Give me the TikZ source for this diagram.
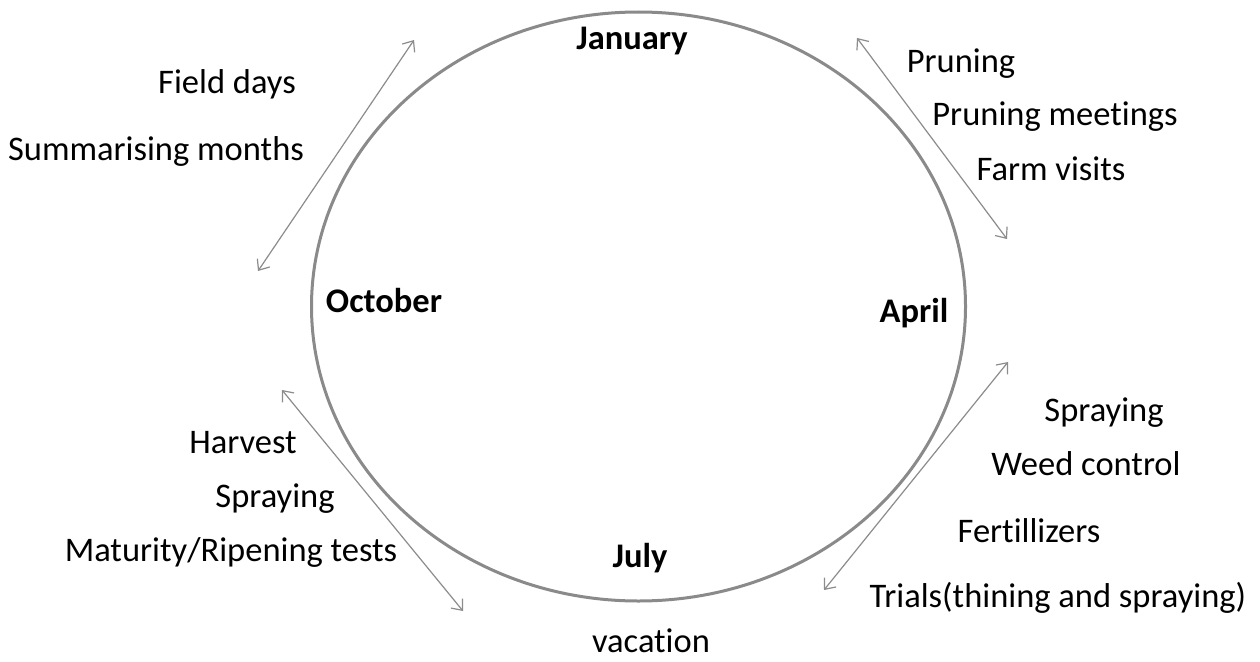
\documentclass[tikz,border=0pt]{standalone}
\usepackage{fontspec}
\setmainfont{Carlito}[Ligatures={NoCommon}]
\usetikzlibrary{arrows.meta}
\definecolor{ringgray}{HTML}{8A8A8A}
\definecolor{arrowgray}{HTML}{8C8C8C}
\begin{document}
\begin{tikzpicture}[x=1pt,y=-1pt,
  ring/.style={draw=ringgray,line width=3pt},
  biarrow/.style={draw=arrowgray,line width=1.2pt,
    {Straight Barb[length=9pt,width=15pt]}-{Straight Barb[length=9pt,width=15pt]}},
  month/.style={anchor=base,inner sep=0pt,font=\fontsize{34.5}{40}\selectfont\bfseries},
  task/.style={anchor=base,inner sep=0pt,font=\fontsize{34.5}{40}\selectfont}]
\useasboundingbox (0,0) rectangle (1260,661);
\fill[white] (0,0) rectangle (1260,661);

% the year as a ring
\draw[ring] (638.5,306.5) ellipse [x radius=327, y radius=294.5];

% months round the ring
\node[month] (jan) at (632,50) {January};
\node[month] (oct) at (384,312) {October};
\node[month] (apr) at (914,322) {April};
\node[month] (jul) at (640,567) {July};

% seasons between the months
\coordinate (tlA) at (258,271);
\coordinate (tlB) at (414,40);
\coordinate (trA) at (857,38);
\coordinate (trB) at (1007,239);
\coordinate (brA) at (1008,362);
\coordinate (brB) at (824,590);
\coordinate (blA) at (282,390);
\coordinate (blB) at (463,611);
\draw[biarrow] (tlA) -- (tlB);
\draw[biarrow] (trA) -- (trB);
\draw[biarrow] (brA) -- (brB);
\draw[biarrow] (blA) -- (blB);

% activities
\node[task] (field) at (227,93) {Field days};
\node[task] (summ) at (156,160) {Summarising months};
\node[task] (prun) at (961,72) {Pruning};
\node[task] (prunm) at (1055,125) {Pruning meetings};
\node[task] (farm) at (1051,180) {Farm visits};
\node[task] (sprayR) at (1104,421) {Spraying};
\node[task] (weed) at (1086,475) {Weed control};
\node[task] (fert) at (1029,542) {Fertillizers};
\node[task] (trial) at (1058,607) {Trials(thining and spraying)};
\node[task] (harv) at (243,453) {Harvest};
\node[task] (sprayL) at (275,507) {Spraying};
\node[task] (matur) at (231,561) {Maturity/Ripening tests};
\node[task] (vac) at (651,652) {vacation};
\end{tikzpicture}
\end{document}
